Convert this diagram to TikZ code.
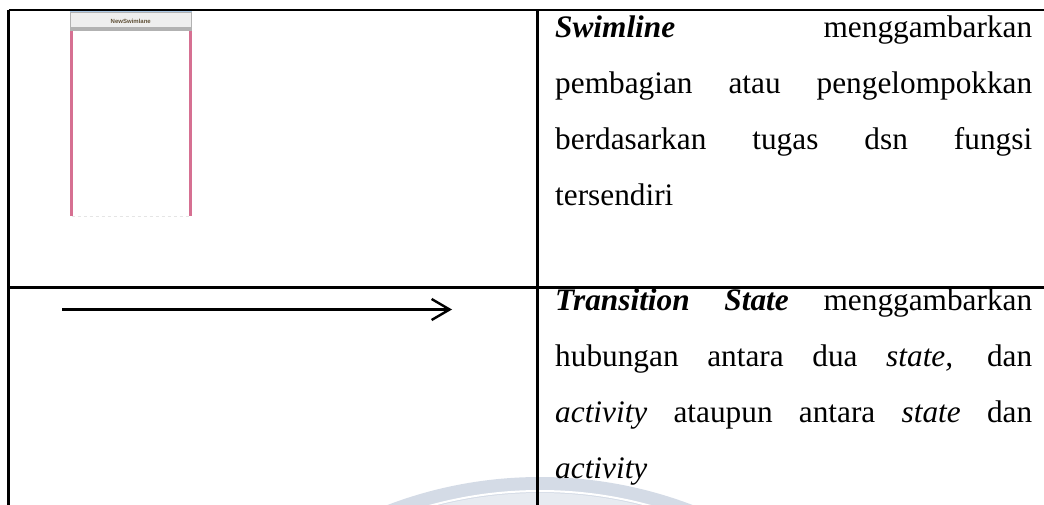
\documentclass[tikz,border=0pt]{standalone}
\usepackage{fontspec}
\setmainfont{Liberation Serif}
\newfontfamily\lanefont{Liberation Sans}
\usetikzlibrary{arrows.meta}
\definecolor{wm}{RGB}{212,219,230}
\definecolor{lanepink}{RGB}{214,112,146}
\definecolor{hdrfill}{RGB}{238,238,238}
\definecolor{hdrtext}{RGB}{95,80,55}
\definecolor{hdrblue}{RGB}{170,200,230}
\tikzset{
  rule/.style={line width=2.6pt, black},
  txt/.style={anchor=base west, inner sep=0pt, font=\fontsize{31.3}{56}\selectfont},
  hdrbox/.style={draw=gray!60, fill=hdrfill, line width=0.6pt, minimum width=121.5pt, minimum height=18pt, inner sep=0pt, font=\lanefont\bfseries\fontsize{6}{7}\selectfont, text=hdrtext},
  laneline/.style={draw=lanepink, line width=2.2pt},
  arr/.style={line width=2.4pt, -{Straight Barb[length=18pt,width=21pt]}}
}
\begin{document}
\begin{tikzpicture}[x=1pt,y=-1pt]
\useasboundingbox (0,0) rectangle (1044,505);
% faint watermark
\begin{scope}
\clip (0,0) rectangle (1044,505);
\fill[wm] (540,905) circle (428);
\draw[white, line width=2pt] (540,905) circle (414);
\fill[wm!55] (540,905) circle (412);
\end{scope}
% table rules
\coordinate (tl) at (8.5,10);
\coordinate (tr) at (1044,10);
\coordinate (bl) at (8.5,505);
\coordinate (mt) at (537.5,10);
\coordinate (mb) at (537.5,505);
\coordinate (hl) at (8.5,287.5);
\coordinate (hr) at (1044,287.5);
\draw[rule] (tl) -- (tr);
\draw[rule] (tl) -- (bl);
\draw[rule] (mt) -- (mb);
\draw[rule] (hl) -- (hr);
% swimlane symbol
\node[hdrbox] (hdr) at (130.75,21) {NewSwimlane};
\draw[hdrblue, line width=0.8pt] (hdr.north west) -- (hdr.north east);
\fill[gray!60] (70,27) rectangle (191.5,31);
\coordinate (l1) at (71.5,31);
\coordinate (l2) at (71.5,216);
\coordinate (r1) at (190.5,31);
\coordinate (r2) at (190.5,216);
\draw[laneline] (l1) -- (l2);
\draw[laneline] (r1) -- (r2);
\draw[gray!20, line width=0.8pt, dashed] (l2) -- (r2);
% transition arrow
\coordinate (a0) at (62,309.5);
\coordinate (a1) at (452,309.5);
\draw[arr] (a0) -- (a1);
% text cell 1
\node[txt] (s1) at (555,37.5) {\makebox[477pt][s]{\textbf{\textit{Swimline}} menggambarkan}};
\node[txt] (s2) at (555,93.5) {\makebox[477pt][s]{pembagian atau pengelompokkan}};
\node[txt] (s3) at (555,149.5) {\makebox[477pt][s]{berdasarkan tugas dsn fungsi}};
\node[txt] (s4) at (555,205.5) {tersendiri};
% text cell 2
\node[txt] (t1) at (555,310) {\makebox[477pt][s]{\textbf{\textit{Transition State}} menggambarkan}};
\node[txt] (t2) at (555,366) {\makebox[477pt][s]{hubungan antara dua \textit{state,} dan}};
\node[txt] (t3) at (555,422) {\makebox[477pt][s]{\textit{activity} ataupun antara \textit{state} dan}};
\node[txt] (t4) at (555,478) {\textit{activity}};
\end{tikzpicture}
\end{document}
